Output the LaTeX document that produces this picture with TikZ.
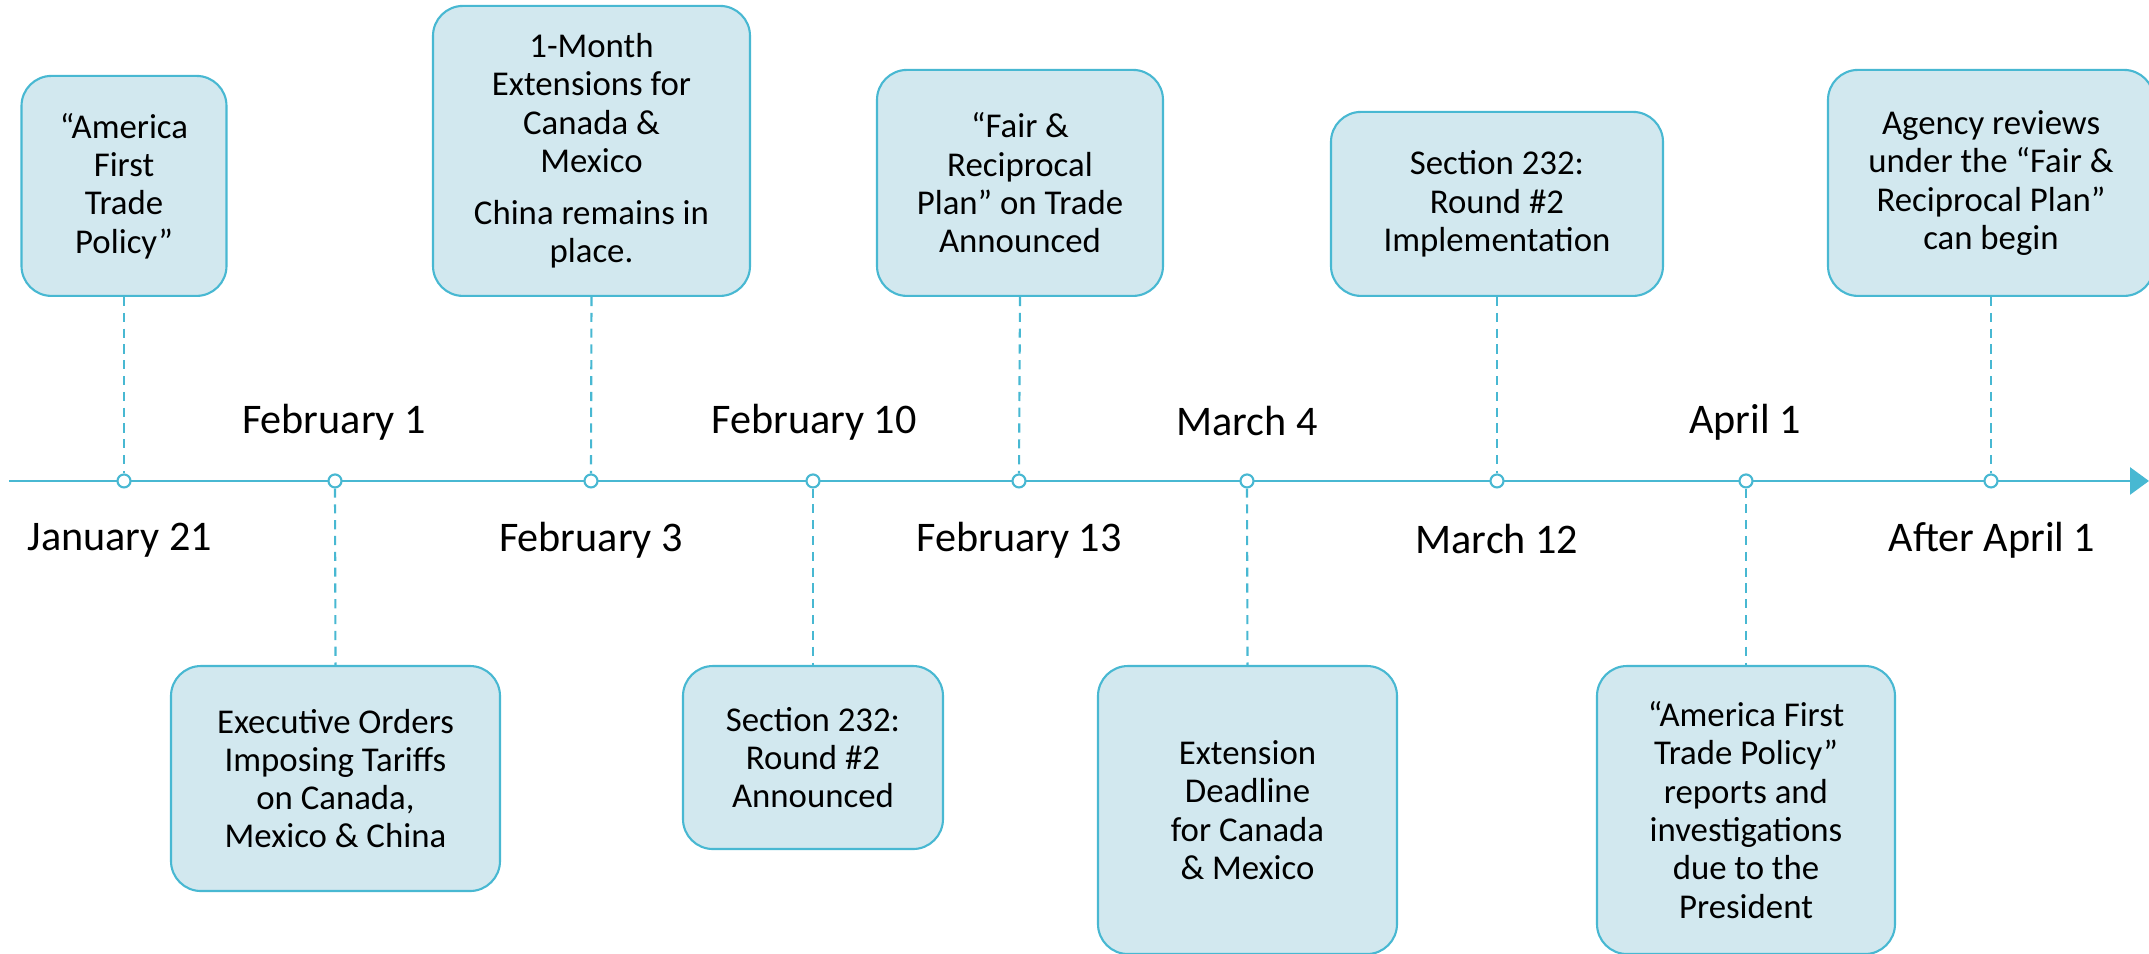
\documentclass[tikz,border=0pt]{standalone}
\usepackage{fontspec}
\setmainfont{Carlito}
\usetikzlibrary{arrows.meta}
\definecolor{tlline}{RGB}{72,184,210}
\definecolor{tlfill}{RGB}{210,232,239}

\begin{document}
\begin{tikzpicture}[
    event/.style={draw=tlline,fill=tlfill,line width=0.6pt,rounded corners=0.3cm,align=center,inner sep=0pt,font=\fontsize{9.9}{10.9}\selectfont},
    dot/.style={draw=tlline,fill=white,circle,line width=0.6pt,minimum size=0.13cm,inner sep=0pt},
    date/.style={inner sep=0pt,font=\fontsize{12}{14}\selectfont},
    link/.style={draw=tlline,line width=0.6pt,dash pattern=on 2.6pt off 1.9pt}
  ]
        \useasboundingbox (0,0) rectangle (21.49,9.54);

        %%%%%%%%% Timeline %%%%%%%%%
        \coordinate (Start) at (0.09,4.73);
        \coordinate (End) at (21.49,4.73);
        \draw[tlline,line width=0.8pt,-{Triangle[length=0.19cm,width=0.27cm]}] (Start) -- (End);

        %%%%%%%%%% Dots %%%%%%%%%%%
        \node[dot] (D1) at (1.24,4.73) {};
        \node[dot] (D2) at (3.35,4.73) {};
        \node[dot] (D3) at (5.91,4.73) {};
        \node[dot] (D4) at (8.13,4.73) {};
        \node[dot] (D5) at (10.19,4.73) {};
        \node[dot] (D6) at (12.47,4.73) {};
        \node[dot] (D7) at (14.97,4.73) {};
        \node[dot] (D8) at (17.46,4.73) {};
        \node[dot] (D9) at (19.91,4.73) {};

        %%%%%%%%% Dates %%%%%%%%%%
        \node[date] (Jan21) at (1.20,4.14) {January 21};
        \node[date] (Feb1) at (3.34,5.32) {February 1};
        \node[date] (Feb3) at (5.91,4.14) {February 3};
        \node[date] (Feb10) at (8.14,5.32) {February 10};
        \node[date] (Feb13) at (10.19,4.14) {February 13};
        \node[date] (Mar4) at (12.47,5.33) {March 4};
        \node[date] (Mar12) at (14.97,4.15) {March 12};
        \node[date] (Apr1) at (17.45,5.32) {April 1};
        \node[date] (AfterApr1) at (19.92,4.14) {After April 1};

        %%%%%%%% Events up %%%%%%%%
        \node[event,minimum width=2.05cm,minimum height=2.20cm,anchor=south] (AFTP) at (1.24,6.57) {“America\\First\\Trade\\Policy”};
        \node[event,minimum width=3.17cm,minimum height=2.90cm,anchor=south] (Ext) at (5.915,6.57) {1-Month\\Extensions for\\Canada \&\\Mexico\\[0.4em]China remains in\\place.};
        \node[event,minimum width=2.86cm,minimum height=2.26cm,anchor=south] (FRP) at (10.20,6.57) {“Fair \&\\Reciprocal\\Plan” on Trade\\Announced};
        \node[event,minimum width=3.32cm,minimum height=1.84cm,anchor=south] (Impl) at (14.97,6.57) {Section 232:\\Round \#2\\Implementation};
        \node[event,minimum width=3.26cm,minimum height=2.26cm,anchor=south] (Rev) at (19.91,6.57) {Agency reviews\\under the “Fair \&\\Reciprocal Plan”\\can begin};

        %%%%%%% Events down %%%%%%%
        \node[event,minimum width=3.29cm,minimum height=2.25cm,anchor=north] (EO) at (3.355,2.89) {Executive Orders\\Imposing Tariffs\\on Canada,\\Mexico \& China};
        \node[event,minimum width=2.60cm,minimum height=1.83cm,anchor=north] (Ann) at (8.13,2.89) {Section 232:\\Round \#2\\Announced};
        \node[event,minimum width=2.99cm,minimum height=2.88cm,anchor=north] (Dead) at (12.475,2.89) {Extension\\Deadline\\for Canada\\\& Mexico};
        \node[event,minimum width=2.98cm,minimum height=2.88cm,anchor=north] (Rep) at (17.46,2.89) {“America First\\Trade Policy”\\reports and\\investigations\\due to the\\President};

        %%%%%%%%% Links %%%%%%%%%%
        \draw[link] (AFTP.south) -- (D1.north);
        \draw[link] (Ext.south) -- (D3.north);
        \draw[link] (FRP.south) -- (D5.north);
        \draw[link] (Impl.south) -- (D7.north);
        \draw[link] (Rev.south) -- (D9.north);
        \draw[link] (D2.south) -- (EO.north);
        \draw[link] (D4.south) -- (Ann.north);
        \draw[link] (D6.south) -- (Dead.north);
        \draw[link] (D8.south) -- (Rep.north);
\end{tikzpicture}
\end{document}
